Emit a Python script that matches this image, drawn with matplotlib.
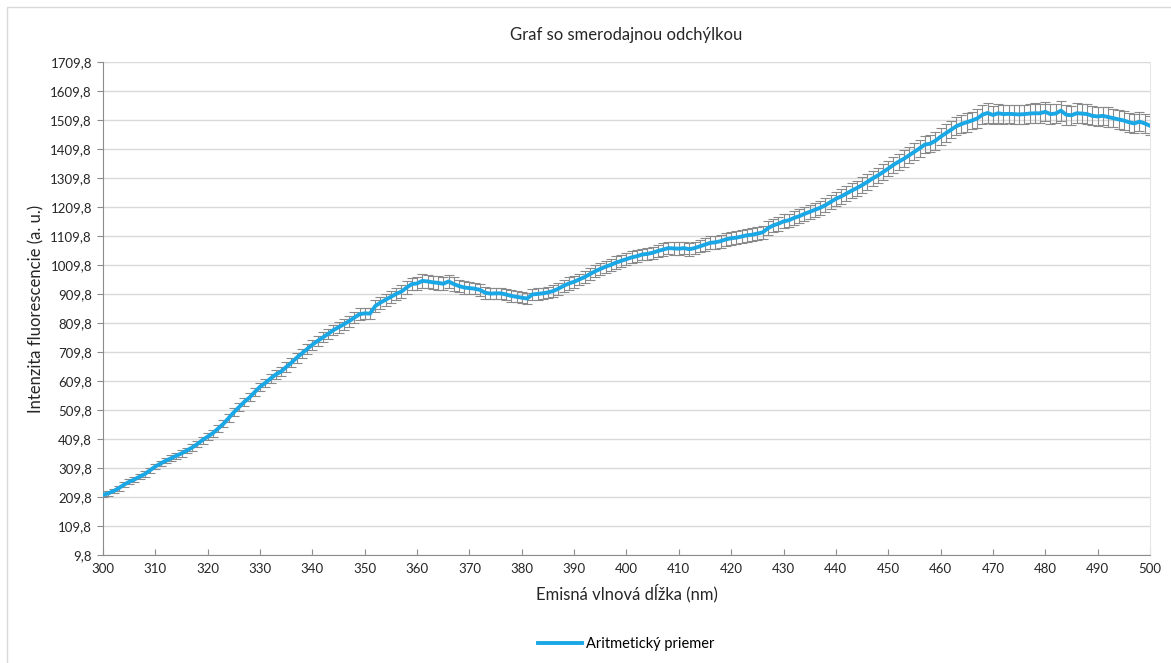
import matplotlib.pyplot as plt
import numpy as np

plt.rcParams['font.family'] = ['Lato', 'DejaVu Sans']

# emission wavelength (nm), 1 nm step
wavelength = np.arange(300, 501)

# arithmetic mean of fluorescence intensity
mean = [
    217, 222, 230, 240, 252, 262, 270, 280, 289, 302,
    315, 325, 335, 343, 352, 360, 370, 380, 392, 406,
    418, 430, 446, 462, 482, 502, 520, 538, 553, 572,
    590, 603, 618, 632, 642, 658, 673, 690, 705, 720,
    735, 748, 760, 772, 785, 795, 805, 816, 828, 840,
    843, 842, 868, 880, 890, 900, 910, 918, 932, 944,
    946, 955, 953, 950, 948, 945, 953, 944, 937, 932,
    930, 928, 924, 914, 911, 912, 912, 908, 903, 900,
    897, 894, 908, 910, 912, 915, 920, 928, 938, 946,
    952, 960, 968, 978, 988, 996, 1004, 1010, 1018, 1024,
    1030, 1036, 1040, 1046, 1048, 1052, 1058, 1063, 1068, 1067,
    1066, 1068, 1064, 1068, 1074, 1080, 1086, 1088, 1092, 1098,
    1102, 1104, 1108, 1112, 1114, 1118, 1122, 1136, 1146, 1152,
    1160, 1164, 1172, 1178, 1186, 1193, 1200, 1207, 1216, 1227,
    1238, 1246, 1256, 1266, 1275, 1285, 1296, 1308, 1318, 1330,
    1342, 1355, 1366, 1376, 1388, 1400, 1412, 1425, 1428, 1438,
    1452, 1464, 1476, 1488, 1496, 1502, 1508, 1515, 1528, 1534,
    1527, 1533, 1530, 1531, 1530, 1529, 1530, 1532, 1533, 1533,
    1538, 1530, 1532, 1542, 1528, 1526, 1533, 1532, 1530, 1524,
    1522, 1524, 1520, 1516, 1512, 1508, 1502, 1498, 1504, 1498,
    1490,
]

# standard deviation (error bars)
std = [
    7, 8, 7, 8, 8, 9, 8, 8, 9, 9,
    9, 10, 9, 10, 10, 11, 10, 11, 11, 12,
    12, 12, 13, 12, 13, 14, 13, 14, 14, 15,
    14, 15, 15, 16, 15, 16, 16, 17, 16, 17,
    17, 18, 17, 18, 18, 19, 18, 19, 19, 20,
    19, 20, 20, 21, 20, 21, 21, 22, 21, 22,
    22, 23, 22, 23, 24, 23, 22, 23, 22, 21,
    21, 20, 21, 20, 20, 19, 20, 19, 20, 19,
    20, 19, 20, 20, 19, 20, 20, 21, 20, 21,
    21, 20, 21, 21, 20, 21, 21, 20, 21, 21,
    20, 21, 21, 20, 21, 21, 22, 21, 21, 22,
    22, 21, 22, 22, 21, 22, 22, 23, 22, 22,
    23, 22, 23, 23, 22, 23, 23, 24, 23, 24,
    24, 23, 24, 24, 25, 24, 25, 25, 24, 25,
    25, 26, 25, 26, 26, 27, 26, 27, 27, 28,
    27, 28, 28, 29, 28, 29, 29, 30, 29, 30,
    30, 31, 30, 31, 31, 32, 31, 32, 32, 33,
    32, 33, 33, 32, 33, 34, 33, 33, 34, 33,
    33, 34, 33, 34, 34, 33, 34, 33, 34, 33,
    33, 32, 33, 32, 33, 32, 32, 33, 32, 32,
    32,
]

y_ticks = np.arange(9.8, 1710, 100)
x_ticks = np.arange(300, 501, 10)

fig = plt.figure(figsize=(11.71, 6.63), dpi=100)
ax = fig.add_axes([0.088, 0.163, 0.894, 0.7435])

# chart area border
fig.patches.append(plt.Rectangle((0.006, -0.01), 1.1, 1.0, transform=fig.transFigure,
                                 fill=False, edgecolor='#d9d9d9', linewidth=1))

ax.errorbar(wavelength, mean, yerr=std, fmt='none', ecolor='#8a8a8a',
            elinewidth=0.8, capsize=3.5, capthick=0.8, zorder=2)
ax.plot(wavelength, mean, color='#1aa7e6', linewidth=2.8, zorder=3,
        label='Aritmetický priemer')

ax.set_xlim(300, 500)
ax.set_ylim(9.8, 1709.8)
ax.set_xticks(x_ticks)
ax.set_yticks(y_ticks)
ax.set_yticklabels([f'{v:.1f}'.replace('.', ',') for v in y_ticks])
ax.grid(axis='y', color='#d9d9d9', linewidth=1)
ax.set_axisbelow(True)

ax.spines['top'].set_visible(False)
ax.spines['right'].set_color('#e6e6e6')
ax.spines['left'].set_color('#8c8c8c')
ax.spines['bottom'].set_color('#8c8c8c')
ax.tick_params(axis='y', direction='out', length=4, color='#8c8c8c',
               labelsize=9.5, labelcolor='#262626', pad=4)
ax.tick_params(axis='x', direction='in', length=4, color='#8c8c8c',
               labelsize=9.5, labelcolor='#262626', pad=6)

ax.set_title('Graf so smerodajnou odchýlkou', fontsize=12, color='#262626', pad=16)
ax.set_xlabel('Emisná vlnová dĺžka (nm)', fontsize=12, color='#262626', labelpad=6)
ax.set_ylabel('Intenzita fluorescencie (a. u.)', fontsize=12, color='#262626', labelpad=4)

ax.legend(loc='upper center', bbox_to_anchor=(0.5, -0.14), frameon=False,
          fontsize=10.5, handlelength=3, handletextpad=0.3)

fig.savefig('out.png', dpi=100)
